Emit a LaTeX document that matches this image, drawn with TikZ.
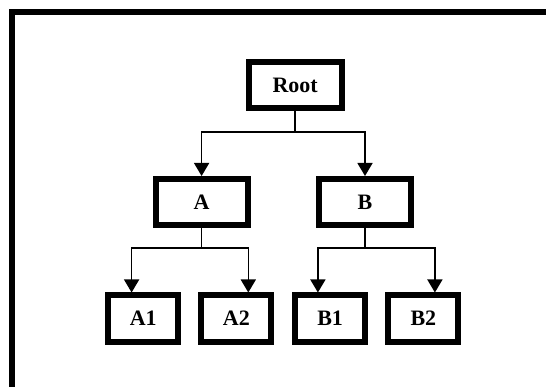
\documentclass[tikz,border=0pt]{standalone}
\usepackage{fontspec}
\setmainfont{Liberation Serif}
\usetikzlibrary{arrows.meta}
\begin{document}
\begin{tikzpicture}[x=1pt,y=-1pt,
  box/.style={draw=black,line width=6pt,fill=white,inner sep=0pt,
    minimum height=46pt,font=\fontsize{22}{24}\selectfont\bfseries},
  bigbox/.style={box,minimum width=92pt},
  smallbox/.style={box,minimum width=70pt},
  conn/.style={draw=black,line width=1.5pt},
  arr/.style={conn,-{Triangle[width=15pt,length=13pt]}}]
\useasboundingbox (0,0) rectangle (546,387);
\draw[line width=6pt] (12,387) -- (12,12) -- (546,12);
\node[bigbox,minimum width=93pt] (root) at (295.2,85.2) {Root};
\node[bigbox] (A) at (201.6,202) {A};
\node[bigbox] (B) at (365,202) {B};
\node[smallbox] (A1) at (143.3,318.5) {A1};
\node[smallbox] (A2) at (236.4,318.5) {A2};
\node[smallbox] (B1) at (330.1,318.5) {B1};
\node[smallbox] (B2) at (423.4,318.5) {B2};
\coordinate (jr) at (295.2,132);
\coordinate (ja) at (201.6,248);
\coordinate (jb) at (365,248);
\draw[conn] (root.south) -- (jr);
\draw[arr] (jr) -| (A.north);
\draw[arr] (jr) -| (B.north);
\draw[conn] (A.south) -- (ja);
\draw[arr] (ja) -| ([xshift=-11.7pt]A1.north);
\draw[arr] (ja) -| ([xshift=11.9pt]A2.north);
\draw[conn] (B.south) -- (jb);
\draw[arr] (jb) -| ([xshift=-12.2pt]B1.north);
\draw[arr] (jb) -| ([xshift=11.5pt]B2.north);
\end{tikzpicture}
\end{document}
